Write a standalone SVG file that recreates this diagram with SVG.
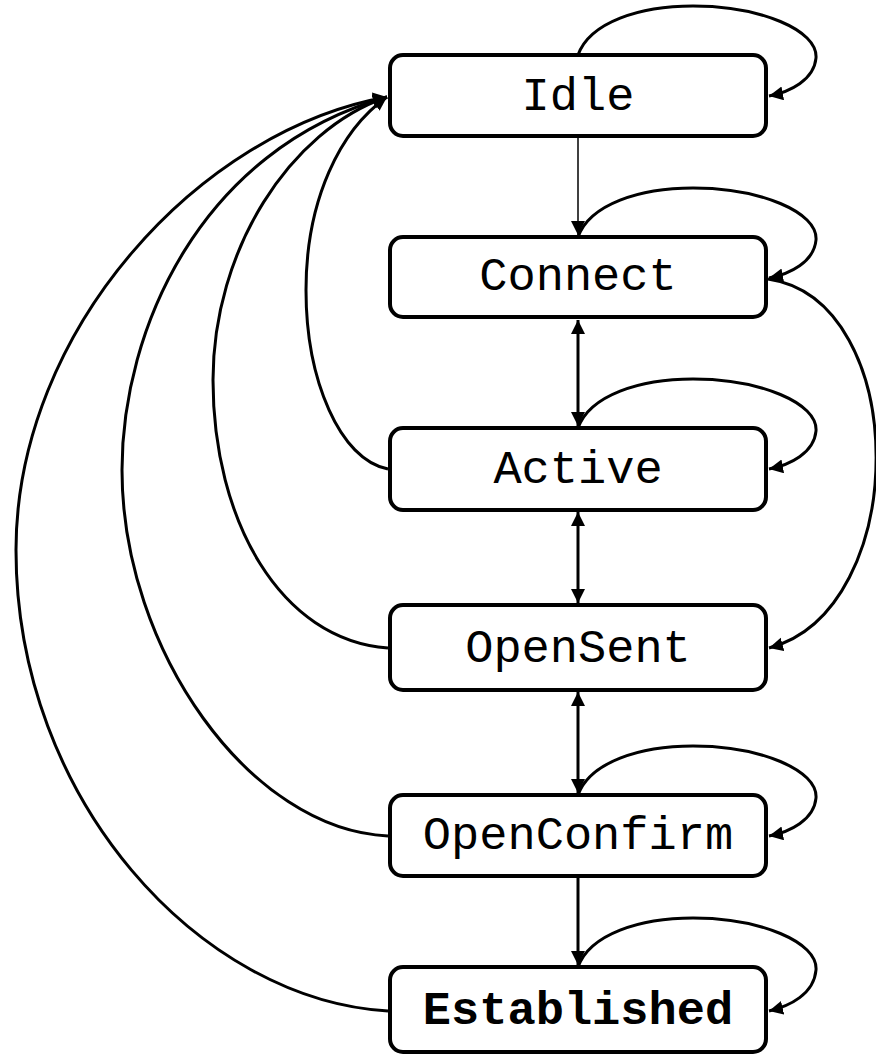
<svg xmlns="http://www.w3.org/2000/svg" width="876" height="1056" viewBox="0 0 876 1056">
  <style>
    .box { fill: #ffffff; stroke: #000000; stroke-width: 4; }
    .label { font-family: "Liberation Mono", "Courier New", monospace; font-size: 47px; fill: #000000; text-anchor: middle; }
    .bold { font-weight: bold; }
    .edge { fill: none; stroke: #000000; stroke-width: 3; }
    .thin { stroke-width: 1.5; }
  </style>
  <defs>
    <marker id="arrow" markerUnits="userSpaceOnUse" markerWidth="16" markerHeight="16" refX="14" refY="7" orient="auto-start-reverse">
      <path d="M0,0 L14,7 L0,14 z" fill="#000000"/>
    </marker>
  </defs>

  <!-- transitions -->
  <g id="connectors">
    <!-- straight vertical transitions -->
    <path class="edge thin" d="M578,137 L578,235" marker-end="url(#arrow)"/>
    <path class="edge" d="M578,320 L578,426" marker-start="url(#arrow)" marker-end="url(#arrow)"/>
    <path class="edge" d="M578,512 L578,603" marker-start="url(#arrow)" marker-end="url(#arrow)"/>
    <path class="edge" d="M578,692 L578,793" marker-start="url(#arrow)" marker-end="url(#arrow)"/>
    <path class="edge" d="M578,878 L578,965" marker-end="url(#arrow)"/>

    <!-- self loops -->
    <path class="edge" d="M578,55 C590,22 640,6 693,6 C760,6 818,30 816,58 C814,80 790,92 769,96" marker-end="url(#arrow)"/>
    <path class="edge" d="M578,237 C590,204 640,188 693,188 C760,188 818,212 816,240 C814,262 790,274 769,278" marker-end="url(#arrow)"/>
    <path class="edge" d="M578,428 C590,395 640,379 693,379 C760,379 818,403 816,431 C814,453 790,465 769,469" marker-end="url(#arrow)"/>
    <path class="edge" d="M578,795 C590,762 640,746 693,746 C760,746 818,770 816,798 C814,820 790,832 769,836" marker-end="url(#arrow)"/>
    <path class="edge" d="M578,967 C590,934 640,918 693,918 C760,918 818,942 816,970 C814,994 790,1006 769,1011" marker-end="url(#arrow)"/>

    <!-- Connect to OpenSent -->
    <path class="edge" d="M768,279 C912,300 912,610 769,648" marker-end="url(#arrow)"/>

    <!-- returns to Idle -->
    <path class="edge" d="M388,469 C340,460 306,380 306,290 C306,200 340,130 387,97" marker-end="url(#arrow)"/>
    <path class="edge" d="M388,648 C280,640 213,520 213,380 C213,250 290,130 387,97" marker-end="url(#arrow)"/>
    <path class="edge" d="M388,836 C250,830 122,650 122,470 C122,330 200,150 387,97" marker-end="url(#arrow)"/>
    <path class="edge" d="M388,1011 C200,1000 16,800 16,550 C16,330 200,130 387,97" marker-end="url(#arrow)"/>
  </g>

  <g id="idle">
    <rect class="box" x="390" y="55" width="376" height="81" rx="13"/>
    <text class="label" x="578" y="110">Idle</text>
  </g>
  <g id="connect">
    <rect class="box" x="390" y="237" width="376" height="80" rx="13"/>
    <text class="label" x="578" y="290">Connect</text>
  </g>
  <g id="active">
    <rect class="box" x="390" y="428" width="376" height="82" rx="13"/>
    <text class="label" x="578" y="483">Active</text>
  </g>
  <g id="opensent">
    <rect class="box" x="390" y="605" width="376" height="85" rx="13"/>
    <text class="label" x="578" y="662">OpenSent</text>
  </g>
  <g id="openconfirm">
    <rect class="box" x="390" y="795" width="376" height="81" rx="13"/>
    <text class="label" x="578" y="849">OpenConfirm</text>
  </g>
  <g id="established">
    <rect class="box" x="390" y="967" width="376" height="85" rx="13"/>
    <text class="label bold" x="578" y="1024">Established</text>
  </g>
</svg>
